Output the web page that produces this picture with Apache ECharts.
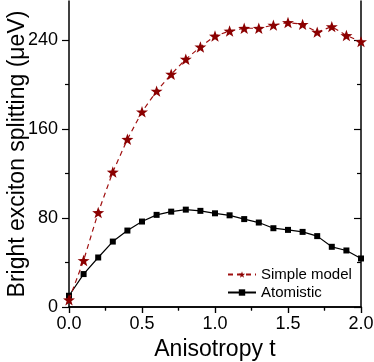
<!DOCTYPE html>
<html><head><meta charset="utf-8">
<script src="https://cdn.jsdelivr.net/npm/echarts@6/dist/echarts.min.js"></script>
<style>html,body{margin:0;padding:0;background:#fff}#c{width:374px;height:362px}</style>
</head><body><div id="c"></div>
<script>
const tValues = [0.0,0.1,0.2,0.3,0.4,0.5,0.6,0.7,0.8,0.9,1.0,1.1,1.2,1.3,1.4,1.5,1.6,1.7,1.8,1.9,2.0];
const simpleModel = [6.5,41.8,84.9,121.3,150.7,175.4,194,209.2,222.7,233.7,243.5,248,250.5,250.5,253.3,255.7,254,247,252,244,238.5];
const atomistic = [10.1,29.6,44.5,58.8,68.7,76.8,82.8,85.7,87.5,86.4,84.2,82.4,79,75.9,70.8,69.3,67.5,63.7,54.1,50.8,43.6];
const yMajorTicks = [0,80,160,240];
const yMinorTicks = [40,120,200];
const xTickLabels = ['0.0','0.5','1.0','1.5','2.0'];
const seriesNames = ['Simple model','Atomistic'];

const star = 'path://M0,-10L2.35,-3.24L9.51,-3.09L3.8,1.24L5.88,8.09L0,4.1L-5.88,8.09L-3.8,1.24L-9.51,-3.09L-2.35,-3.24Z';
const font = 'Liberation Sans, Arial, sans-serif';
const chart = echarts.init(document.getElementById('c'));
const grid = {left:69, right:13, top:1, bottom:55, containLabel:false, outerBoundsMode:'none'};
const xCommon = {type:'value', min:0, max:2, interval:0.5};
const yCommon = {type:'value', min:0, max:275};
chart.setOption({
  animation:false,
  grid: grid,
  legend: {
    orient:'vertical', left:222, top:262, itemWidth:28, itemHeight:8, itemGap:3,
    textStyle:{fontFamily:font, fontSize:15, color:'#000'},
    data: seriesNames
  },
  xAxis: [
    Object.assign({}, xCommon, {
      position:'bottom',
      name:'Anisotropy t', nameLocation:'middle', nameGap:29,
      nameTextStyle:{fontFamily:font, fontSize:23, color:'#000'},
      axisLine:{lineStyle:{color:'#000', width:1.5}},
      axisTick:{show:true, length:6, lineStyle:{color:'#000', width:1.2}},
      minorTick:{show:true, splitNumber:2, length:3.5, lineStyle:{color:'#000', width:1.2}},
      splitLine:{show:false},
      axisLabel:{margin:8, fontFamily:font, fontSize:18, color:'#000',
        formatter:(v)=>{const i=Math.round(v/0.5); return xTickLabels[i] ?? '';}}
    }),
    Object.assign({}, xCommon, {
      position:'top',
      axisLine:{show:true, lineStyle:{color:'#000', width:1.5}},
      axisTick:{show:true, inside:true, length:6, lineStyle:{color:'#000', width:1.2}},
      minorTick:{show:true, splitNumber:2, length:3.5, lineStyle:{color:'#000', width:1.2}},
      splitLine:{show:false},
      axisLabel:{show:false}
    })
  ],
  yAxis: [
    Object.assign({}, yCommon, {
      position:'left',
      name:'Bright exciton splitting (μeV)', nameLocation:'middle', nameGap:40, nameMoveOverlap:false,
      nameTextStyle:{fontFamily:font, fontSize:23, color:'#000'},
      axisLine:{show:true, lineStyle:{color:'#000', width:1.5}},
      axisTick:{show:true, length:7, customValues:yMajorTicks, lineStyle:{color:'#000', width:1.2}},
      splitLine:{show:false},
      axisLabel:{margin:11, fontFamily:font, fontSize:18, color:'#000', customValues:yMajorTicks}
    }),
    Object.assign({}, yCommon, {
      position:'left',
      axisLine:{show:false},
      axisTick:{show:true, length:4, customValues:yMinorTicks, lineStyle:{color:'#000', width:1.2}},
      splitLine:{show:false},
      axisLabel:{show:false}
    }),
    Object.assign({}, yCommon, {
      position:'right',
      axisLine:{show:true, lineStyle:{color:'#000', width:1.5}},
      axisTick:{show:true, inside:true, length:7, customValues:yMajorTicks, lineStyle:{color:'#000', width:1.2}},
      splitLine:{show:false},
      axisLabel:{show:false}
    }),
    Object.assign({}, yCommon, {
      position:'right',
      axisLine:{show:false},
      axisTick:{show:true, inside:true, length:4, customValues:yMinorTicks, lineStyle:{color:'#000', width:1.2}},
      splitLine:{show:false},
      axisLabel:{show:false}
    })
  ],
  series: [
    {
      name:seriesNames[0], type:'line',
      data: tValues.map((t,i)=>[t, simpleModel[i]]),
      symbol: star, symbolSize:12, symbolKeepAspect:true,
      itemStyle:{color:'#8b0000'},
      lineStyle:{color:'#a01010', width:1.2, type:[5,4]},
      z:3
    },
    {
      name:seriesNames[1], type:'line',
      data: tValues.map((t,i)=>[t, atomistic[i]]),
      symbol:'rect', symbolSize:6,
      itemStyle:{color:'#000'},
      lineStyle:{color:'#000', width:1.2},
      z:2
    }
  ]
});
</script>
</body></html>
